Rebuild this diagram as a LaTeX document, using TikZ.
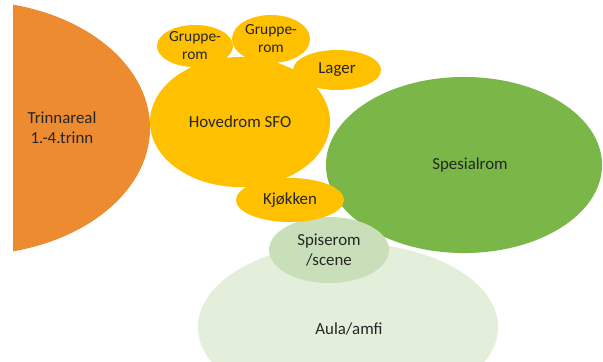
\documentclass[tikz,border=0pt]{standalone}
\usepackage{fontspec}
\setmainfont{Carlito}
\usepackage{tikz}
\usetikzlibrary{shapes.geometric}
\definecolor{trinnorange}{HTML}{ED8B30}
\definecolor{sfoyellow}{HTML}{FFC000}
\definecolor{spesgreen}{HTML}{7AB648}
\definecolor{spisegreen}{HTML}{C8DFBA}
\definecolor{aulagreen}{HTML}{E3EFDA}
\definecolor{labelgray}{HTML}{262626}
\tikzset{
  room/.style={ellipse,inner sep=0pt,align=center,text=labelgray,
    font=\fontsize{12}{14}\selectfont},
  small room/.style={room,font=\fontsize{11}{12.8}\selectfont}
}

\begin{document}
\begin{tikzpicture}[x=0.025cm,y=-0.025cm]
  \useasboundingbox (0,0) rectangle (603,361);
  \clip (0,0) rectangle (603,361);
  % trinnareal, cut off at the left
  \begin{scope}
    \clip (13,0) rectangle (603,361);
    \fill[trinnorange] (-30,128) ellipse[x radius=180,y radius=127];
  \end{scope}
  \node[room] (trinn) at (62,128) {Trinnareal\\ 1.-4.trinn};
  \node[room,fill=spesgreen,minimum width=6.9cm,minimum height=4.4cm] (spes) at (464,165) {};
  \node[room] at (470,165) {Spesialrom};
  \node[room,fill=aulagreen,minimum width=7.5cm,minimum height=4.2cm] (aula) at (348,327) {};
  \node[room] at (349,329) {Aula/amfi};
  \node[room,fill=spisegreen,minimum width=3cm,minimum height=1.65cm] (spise) at (329,250) {Spiserom\\/scene};
  \node[room,fill=sfoyellow,minimum width=4.5cm,minimum height=3.25cm] (hoved) at (240,122) {Hovedrom SFO};
  \node[small room,fill=sfoyellow,minimum width=1.9cm,minimum height=1.05cm] (gruppeA) at (195,46) {Gruppe-\\rom};
  \node[small room,fill=sfoyellow,minimum width=1.95cm,minimum height=1.2cm] (gruppeB) at (271,39) {Gruppe-\\rom};
  \node[room,fill=sfoyellow,minimum width=2.2cm,minimum height=1cm] (lager) at (337,70) {Lager};
  \node[room,fill=sfoyellow,minimum width=2.7cm,minimum height=1.1cm] (kjokken) at (290,200) {Kjøkken};
\end{tikzpicture}
\end{document}
